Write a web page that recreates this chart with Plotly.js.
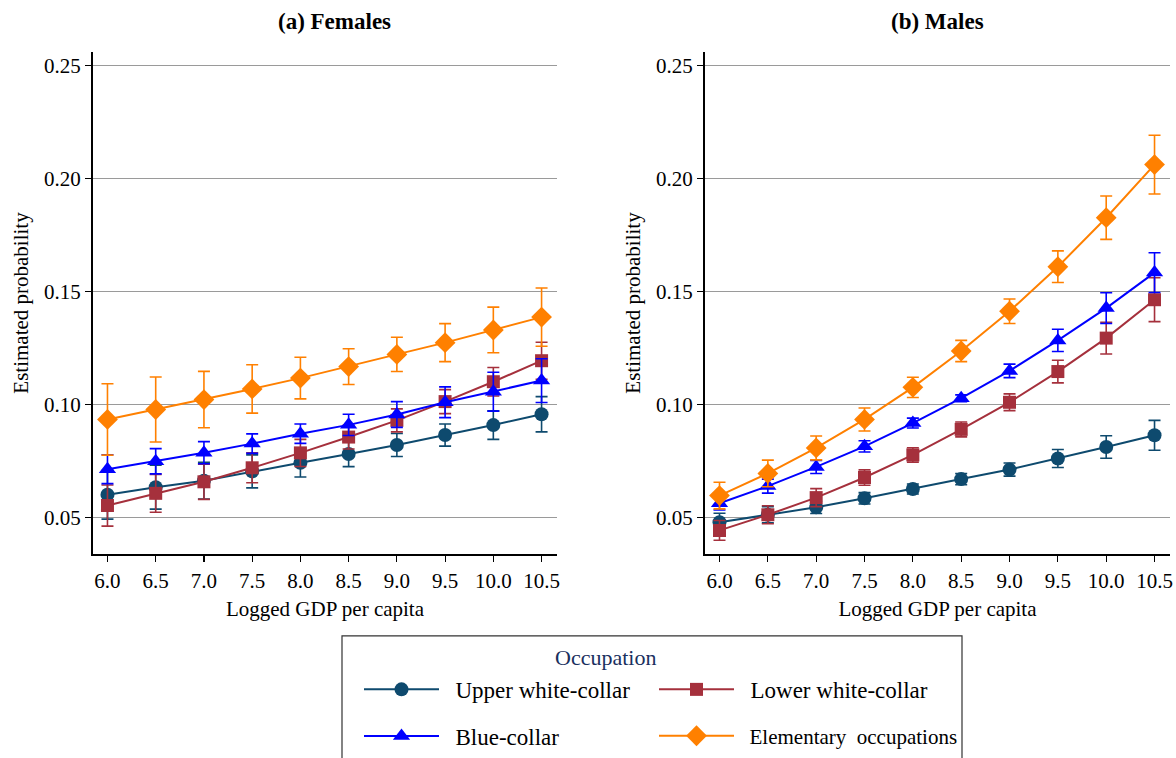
<!DOCTYPE html>
<html>
<head>
<meta charset="utf-8">
<script src="https://cdn.plot.ly/plotly-3.0.1.min.js"></script>
<style>html,body{margin:0;padding:0;background:#fff;}#chart{width:1176px;height:758px;}</style>
</head>
<body>
<div id="chart"></div>
<script>
// ---- Data ----
const gdp = [6.0, 6.5, 7.0, 7.5, 8.0, 8.5, 9.0, 9.5, 10.0, 10.5];
const xTickVals = [6.0, 6.5, 7.0, 7.5, 8.0, 8.5, 9.0, 9.5, 10.0, 10.5];
const xTickText = ["6.0", "6.5", "7.0", "7.5", "8.0", "8.5", "9.0", "9.5", "10.0", "10.5"];
const yTickVals = [0.05, 0.10, 0.15, 0.20, 0.25];
const yTickText = ["0.05", "0.10", "0.15", "0.20", "0.25"];
const seriesNames = ["Upper white-collar", "Lower white-collar", "Blue-collar", "Elementary  occupations"];
const panelTitles = ["(a) Females", "(b) Males"];

// Females
const fUpper    = [0.0601, 0.0634, 0.0663, 0.0704, 0.0742, 0.0781, 0.0821, 0.0865, 0.0909, 0.0957];
const fUpperErr = [0.0108, 0.0097, 0.0081, 0.0073, 0.0063, 0.0056, 0.0051, 0.0049, 0.0063, 0.0078];
const fLower    = [0.0553, 0.0607, 0.0658, 0.0720, 0.0786, 0.0856, 0.0930, 0.1013, 0.1101, 0.1194];
const fLowerErr = [0.0091, 0.0084, 0.0078, 0.0066, 0.0060, 0.0053, 0.0051, 0.0053, 0.0063, 0.0082];
const fBlue     = [0.0714, 0.0749, 0.0787, 0.0827, 0.0871, 0.0910, 0.0956, 0.1010, 0.1057, 0.1106];
const fBlueErr  = [0.0064, 0.0056, 0.0049, 0.0043, 0.0043, 0.0047, 0.0057, 0.0068, 0.0086, 0.0097];
const fElem     = [0.0934, 0.0978, 0.1022, 0.1069, 0.1117, 0.1168, 0.1222, 0.1274, 0.1330, 0.1387];
const fElemErr  = [0.0158, 0.0144, 0.0125, 0.0107, 0.0092, 0.0079, 0.0076, 0.0084, 0.0101, 0.0129];

// Males
const mUpper    = [0.0479, 0.0512, 0.0545, 0.0585, 0.0626, 0.0670, 0.0712, 0.0761, 0.0812, 0.0864];
const mUpperErr = [0.0040, 0.0036, 0.0027, 0.0025, 0.0022, 0.0025, 0.0029, 0.0040, 0.0050, 0.0066];
const mLower    = [0.0443, 0.0512, 0.0588, 0.0677, 0.0777, 0.0890, 0.1010, 0.1146, 0.1294, 0.1464];
const mLowerErr = [0.0044, 0.0040, 0.0040, 0.0034, 0.0032, 0.0033, 0.0037, 0.0050, 0.0070, 0.0097];
const mBlue     = [0.0563, 0.0639, 0.0724, 0.0815, 0.0918, 0.1028, 0.1149, 0.1284, 0.1427, 0.1584];
const mBlueErr  = [0.0030, 0.0031, 0.0029, 0.0025, 0.0022, 0.0015, 0.0030, 0.0049, 0.0068, 0.0088];
const mElem     = [0.0597, 0.0695, 0.0808, 0.0934, 0.1076, 0.1237, 0.1413, 0.1610, 0.1827, 0.2062];
const mElemErr  = [0.0059, 0.0059, 0.0053, 0.0051, 0.0045, 0.0047, 0.0054, 0.0070, 0.0096, 0.0130];

// ---- Styles ----
const colors  = ["#0e4a6e", "#a5303c", "#0000ff", "#ff8000"];
const symbols = ["circle", "square", "triangle-up", "diamond"];
const sizes   = [14, 13, 15, 16];
const legendIds = ["legend", "legend2", "legend3", "legend4"];
const FONT = "Liberation Serif, Times New Roman, serif";

const females = [[fUpper, fUpperErr], [fLower, fLowerErr], [fBlue, fBlueErr], [fElem, fElemErr]];
const males   = [[mUpper, mUpperErr], [mLower, mLowerErr], [mBlue, mBlueErr], [mElem, mElemErr]];

const traces = [];
function addPanel(data, xa, ya, showLeg) {
  data.forEach((d, i) => {
    traces.push({
      type: "scatter", mode: "lines+markers",
      x: gdp, y: d[0],
      xaxis: xa, yaxis: ya,
      name: "\u00a0\u00a0" + seriesNames[i],
      legend: legendIds[i],
      showlegend: showLeg,
      line: {color: colors[i], width: 2},
      marker: {color: colors[i], symbol: symbols[i], size: sizes[i]},
      error_y: {type: "data", array: d[1], visible: true, color: colors[i], thickness: 1.6, width: 6}
    });
  });
}
addPanel(females, "x", "y", true);
addPanel(males, "x2", "y2", false);

const axisY = {
  range: [0.0337, 0.2562], tickvals: yTickVals, ticktext: yTickText,
  showgrid: true, gridcolor: "#9a9a9a", gridwidth: 1.3, zeroline: false,
  showline: true, linecolor: "#000", linewidth: 2, mirror: false,
  ticks: "outside", ticklen: 6, tickwidth: 1.2, tickcolor: "#000",
  tickfont: {family: FONT, size: 21, color: "#000"},
  title: {text: "Estimated probability", font: {family: FONT, size: 21, color: "#000"}, standoff: 10}
};
const axisX = {
  range: [5.85, 10.66], tickvals: xTickVals, ticktext: xTickText,
  showgrid: false, zeroline: false,
  showline: true, linecolor: "#000", linewidth: 2, mirror: false,
  ticks: "outside", ticklen: 6, tickwidth: 1.2, tickcolor: "#000",
  tickfont: {family: FONT, size: 21, color: "#000"},
  title: {text: "Logged GDP per capita", font: {family: FONT, size: 21, color: "#000"}, standoff: 10}
};

const yDom = [1 - 558/758, 1 - 52/758];
const leg = (x, y, fs) => ({
  x: x, y: y, xanchor: "left", yanchor: "middle", orientation: "h",
  bgcolor: "rgba(0,0,0,0)", borderwidth: 0, itemwidth: 75,
  font: {family: FONT, size: fs, color: "#000"}
});

const layout = {
  width: 1176, height: 758,
  margin: {l: 0, r: 0, t: 0, b: 0},
  paper_bgcolor: "#fff", plot_bgcolor: "#fff",
  font: {family: FONT, color: "#000"},
  xaxis:  Object.assign({}, axisX, {domain: [93/1176, 557/1176], anchor: "y"}),
  yaxis:  Object.assign({}, axisY, {domain: yDom, anchor: "x"}),
  xaxis2: Object.assign({}, axisX, {domain: [705/1176, 1170/1176], anchor: "y2"}),
  yaxis2: Object.assign({}, axisY, {domain: yDom, anchor: "x2"}),
  legend:  leg(359/1176, 1 - 694/758, 23),
  legend2: leg(654/1176, 1 - 694/758, 23),
  legend3: leg(359/1176, 1 - 741/758, 23),
  legend4: leg(654/1176, 1 - 741/758, 21),
  shapes: [{
    type: "rect", xref: "paper", yref: "paper",
    x0: 342/1176, x1: 962/1176, y0: -0.02, y1: 1 - 640/758,
    line: {color: "#333", width: 1.2}, fillcolor: "rgba(0,0,0,0)"
  }],
  annotations: [
    {text: "<b>" + panelTitles[0] + "</b>", xref: "paper", yref: "paper", x: 334/1176, y: 1 - 22/758,
     showarrow: false, xanchor: "center", yanchor: "middle", font: {family: FONT, size: 23, color: "#000"}},
    {text: "<b>" + panelTitles[1] + "</b>", xref: "paper", yref: "paper", x: 937/1176, y: 1 - 22/758,
     showarrow: false, xanchor: "center", yanchor: "middle", font: {family: FONT, size: 23, color: "#000"}},
    {text: "Occupation", xref: "paper", yref: "paper", x: 605/1176, y: 1 - 662/758,
     showarrow: false, xanchor: "center", yanchor: "middle", font: {family: FONT, size: 22, color: "#1a2f5e"}}
  ]
};

Plotly.newPlot("chart", traces, layout, {displayModeBar: false, staticPlot: true});
</script>
</body>
</html>
